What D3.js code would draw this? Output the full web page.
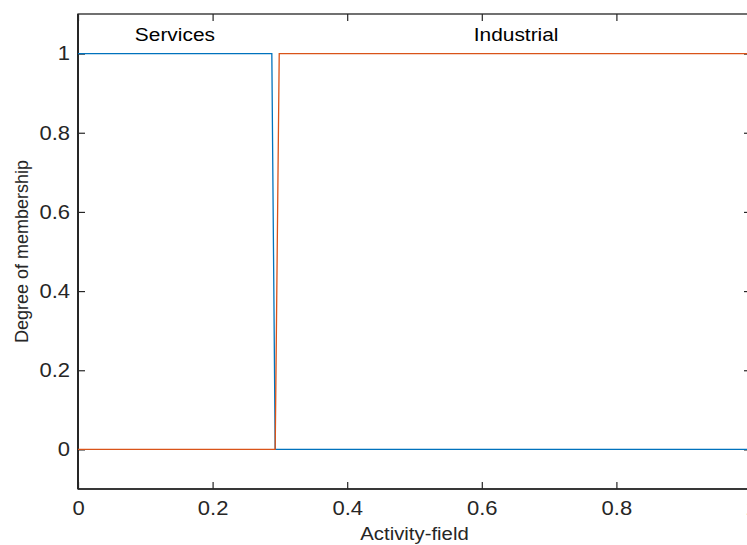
<!DOCTYPE html>
<html>
<head>
<meta charset="utf-8">
<script src="https://cdn.jsdelivr.net/npm/d3@7"></script>
<style>
  body { margin: 0; background: #fff; }
  svg { display: block; font-family: "Liberation Sans", Arial, sans-serif; }
</style>
</head>
<body>
<div id="chart"></div>
<script>
// membership functions
const servicesX = [0, 0.288, 0.293, 1];
const servicesY = [1, 1, 0, 0];
const industrialX = [0, 0.293, 0.299, 1];
const industrialY = [0, 0, 1, 1];

const xTicks = [0, 0.2, 0.4, 0.6, 0.8, 1];
const yTicks = [0, 0.2, 0.4, 0.6, 0.8, 1];

const mfLabels = ["Services", "Industrial"];
const mfLabelX = [0.144, 0.651];
const mfLabelY = [1.031, 1.031];

const width = 747;
const height = 545;
const margin = { top: 14, right: -4, bottom: 56, left: 78 };
const stretch = 1.13; // the picture is a little wider than tall

const x = d3.scaleLinear().domain([0, 1]).range([margin.left, width - margin.right]);
const y = d3.scaleLinear().domain([-0.1, 1.1]).range([height - margin.bottom, margin.top]);

const svg = d3.select("#chart")
  .append("svg")
  .attr("width", width)
  .attr("height", height);

const axisColor = "#262626";

function styleAxis(g) {
  g.select(".domain").remove();
  g.selectAll(".tick line").attr("stroke", axisColor).attr("stroke-width", 1.2);
  g.selectAll(".tick text")
    .attr("fill", axisColor)
    .attr("font-size", "19.5px")
    .attr("font-family", "'Liberation Sans', Arial, sans-serif");
}

// bottom
svg.append("g")
  .attr("transform", `translate(0,${y(-0.1)})`)
  .call(d3.axisBottom(x).tickValues(xTicks).tickFormat(d3.format("~g")).tickSizeInner(-7).tickPadding(12))
  .call(styleAxis)
  .call(g => g.selectAll(".tick text")
    .attr("transform", `scale(${stretch},1)`)
    .attr("dy", "0.71em"));

// top
svg.append("g")
  .attr("transform", `translate(0,${y(1.1)})`)
  .call(d3.axisTop(x).tickValues(xTicks).tickSizeInner(-7).tickFormat(""))
  .call(styleAxis);

// left
svg.append("g")
  .attr("transform", `translate(${x(0)},0)`)
  .call(d3.axisLeft(y).tickValues(yTicks).tickFormat(d3.format("~g")).tickSizeInner(-7).tickPadding(8))
  .call(styleAxis)
  .call(g => g.selectAll(".tick text").attr("transform", `scale(${stretch},1)`)
    .attr("x", -8 / stretch));

// right
svg.append("g")
  .attr("transform", `translate(${x(1)},0)`)
  .call(d3.axisRight(y).tickValues(yTicks).tickSizeInner(-7).tickFormat(""))
  .call(styleAxis);

// box
svg.append("rect")
  .attr("x", x(0))
  .attr("y", y(1.1))
  .attr("width", x(1) - x(0))
  .attr("height", y(-0.1) - y(1.1))
  .attr("fill", "none")
  .attr("stroke", axisColor)
  .attr("stroke-width", 1.3);

svg.append("line")
  .attr("x1", x(0)).attr("x2", x(0))
  .attr("y1", y(1.1)).attr("y2", y(-0.1))
  .attr("stroke", axisColor).attr("stroke-width", 2);
svg.append("line")
  .attr("x1", x(0)).attr("x2", x(1))
  .attr("y1", y(-0.1)).attr("y2", y(-0.1))
  .attr("stroke", axisColor).attr("stroke-width", 1.6);

const line = d3.line().x(d => x(d[0])).y(d => y(d[1]));

svg.append("path")
  .datum(d3.zip(servicesX, servicesY))
  .attr("d", line)
  .attr("fill", "none")
  .attr("stroke", "#0072BD")
  .attr("stroke-width", 1.3);

svg.append("path")
  .datum(d3.zip(industrialX, industrialY))
  .attr("d", line)
  .attr("fill", "none")
  .attr("stroke", "#D95319")
  .attr("stroke-width", 1.3);

// membership function names
svg.append("g")
  .selectAll("text")
  .data(mfLabels)
  .enter().append("text")
  .attr("transform", (d, i) => `translate(${x(mfLabelX[i])},${y(mfLabelY[i])}) scale(${stretch},1)`)
  .attr("text-anchor", "middle")
  .attr("font-size", "18.5px")
  .attr("fill", "#000")
  .text(d => d);

// axis titles
svg.append("text")
  .attr("transform", `translate(${(x(0) + x(1)) / 2},540) scale(${stretch},1)`)
  .attr("text-anchor", "middle")
  .attr("font-size", "18px")
  .attr("fill", axisColor)
  .text("Activity-field");

svg.append("text")
  .attr("transform", `translate(28,${(y(-0.1) + y(1.1)) / 2}) rotate(-90)`)
  .attr("text-anchor", "middle")
  .attr("font-size", "18px")
  .attr("fill", axisColor)
  .text("Degree of membership");
</script>
</body>
</html>
